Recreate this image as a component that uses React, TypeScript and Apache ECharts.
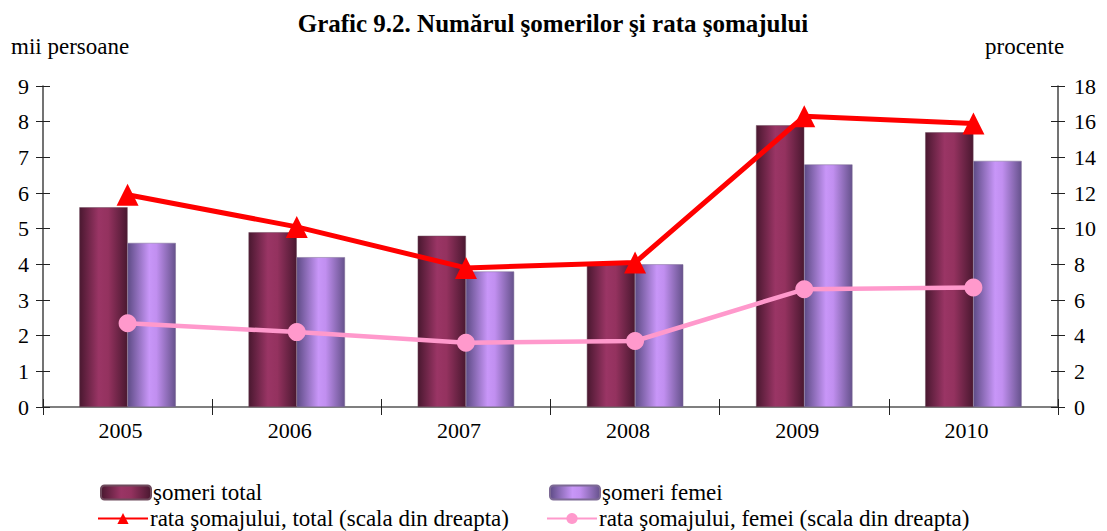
import React, { useEffect, useRef } from "react";
import * as echarts from "echarts";

const years = ["2005", "2006", "2007", "2008", "2009", "2010"];
const someriTotal = [5.6, 4.9, 4.8, 4.0, 7.9, 7.7];
const someriFemei = [4.6, 4.2, 3.8, 4.0, 6.8, 6.9];
const rataTotal = [11.9, 10.1, 7.8, 8.1, 16.3, 15.9];
const rataFemei = [4.7, 4.2, 3.6, 3.7, 6.6, 6.7];

const FONT = "'Liberation Serif', 'Times New Roman', serif";

const gradTotal = new echarts.graphic.LinearGradient(0, 0, 1, 0, [
  { offset: 0, color: "#4a1830" },
  { offset: 0.4, color: "#9a3565" },
  { offset: 0.6, color: "#94325f" },
  { offset: 1, color: "#4a1830" },
]);
const gradFemei = new echarts.graphic.LinearGradient(0, 0, 1, 0, [
  { offset: 0, color: "#5e4c86" },
  { offset: 0.45, color: "#c896f8" },
  { offset: 0.6, color: "#c18ff0" },
  { offset: 1, color: "#66528c" },
]);

export default function App() {
  const ref = useRef<HTMLDivElement>(null);
  useEffect(() => {
    const chart = echarts.init(ref.current!, null, { renderer: "svg" });
    const textStyle = { fontFamily: FONT, fontSize: 22, color: "#000" };
    const tickStyle = { color: "#222", width: 1 };
    chart.setOption({
      animation: false,
      textStyle: { fontFamily: FONT },
      title: {
        text: "Grafic 9.2. Numărul şomerilor şi rata şomajului",
        left: 548,
        textAlign: "center",
        top: 6,
        textStyle: { fontFamily: FONT, fontSize: 25, fontWeight: "bold", color: "#000" },
      },
      graphic: [
        { type: "text", left: 11, top: 35, style: { text: "mii persoane", fontFamily: FONT, fontSize: 23, fill: "#000" } },
        { type: "text", left: 985, top: 35, style: { text: "procente", fontFamily: FONT, fontSize: 23, fill: "#000" } },
      ],
      legend: [
        { data: ["şomeri total"], left: 100, top: 481 },
        { data: ["şomeri femei"], left: 549, top: 481 },
        { data: ["rata şomajului, total (scala din dreapta)"], left: 97, top: 507 },
        { data: ["rata şomajului, femei (scala din dreapta)"], left: 546, top: 507 },
      ].map((l) => ({
        ...l,
        itemWidth: 50,
        itemHeight: 14,
        itemGap: 4,
        padding: 0,
        textStyle: { ...textStyle, fontSize: 23, padding: [0, 0, 0, -3] },
      })),
      grid: { left: 43, right: 49, top: 86, bottom: 124 },
      xAxis: [
        {
          type: "category",
          data: years,
          position: "bottom",
          boundaryGap: true,
          axisLine: { lineStyle: { color: "#555", width: 1.5 } },
          axisTick: { show: true, length: 8, inside: false, lineStyle: tickStyle },
          axisLabel: { ...textStyle, margin: 12, padding: [0, 14, 0, 0] },
        },
        {
          type: "category",
          data: years,
          position: "bottom",
          boundaryGap: true,
          axisLine: { show: false },
          axisTick: { show: true, length: 8, inside: true, lineStyle: tickStyle },
          axisLabel: { show: false },
        },
      ],
      yAxis: [
        {
          type: "value",
          min: 0,
          max: 9,
          interval: 1,
          position: "left",
          splitLine: { show: false },
          axisLine: { show: true, lineStyle: { color: "#444", width: 1.5 } },
          axisTick: { show: true, inside: false, length: 7, lineStyle: tickStyle },
          axisLabel: { ...textStyle, margin: 14 },
        },
        {
          type: "value",
          min: 0,
          max: 18,
          interval: 2,
          position: "right",
          splitLine: { show: false },
          axisLine: { show: true, lineStyle: { color: "#444", width: 1.5 } },
          axisTick: { show: true, inside: false, length: 7, lineStyle: tickStyle },
          axisLabel: { ...textStyle, margin: 16 },
        },
        {
          type: "value",
          min: 0,
          max: 9,
          interval: 1,
          position: "left",
          splitLine: { show: false },
          axisLine: { show: false },
          axisTick: { show: true, inside: true, length: 7, lineStyle: tickStyle },
          axisLabel: { show: false },
        },
        {
          type: "value",
          min: 0,
          max: 18,
          interval: 2,
          position: "right",
          splitLine: { show: false },
          axisLine: { show: false },
          axisTick: { show: true, inside: true, length: 7, lineStyle: tickStyle },
          axisLabel: { show: false },
        },
      ],
      series: [
        {
          name: "şomeri total",
          type: "bar",
          data: someriTotal,
          barGap: "0%",
          barCategoryGap: "43%",
          itemStyle: { color: gradTotal, borderColor: "#6e4a5c", borderWidth: 0.5 },
        },
        {
          name: "şomeri femei",
          type: "bar",
          data: someriFemei,
          itemStyle: { color: gradFemei, borderColor: "#7d6a95", borderWidth: 0.5 },
        },
        {
          name: "rata şomajului, total (scala din dreapta)",
          type: "line",
          yAxisIndex: 1,
          data: rataTotal,
          symbol: "triangle",
          symbolSize: 22,
          lineStyle: { color: "#ff0000", width: 5 },
          itemStyle: { color: "#ff0000" },
          z: 5,
        },
        {
          name: "rata şomajului, femei (scala din dreapta)",
          type: "line",
          yAxisIndex: 1,
          data: rataFemei,
          symbol: "circle",
          symbolSize: 18,
          lineStyle: { color: "#ff99cc", width: 4.5 },
          itemStyle: { color: "#ff99cc" },
          z: 4,
        },
      ],
    });
    return () => chart.dispose();
  }, []);
  return (
    <div
      ref={ref}
      style={{ position: "fixed", left: 0, top: 0, width: 1107, height: 531, background: "#fff" }}
    />
  );
}
